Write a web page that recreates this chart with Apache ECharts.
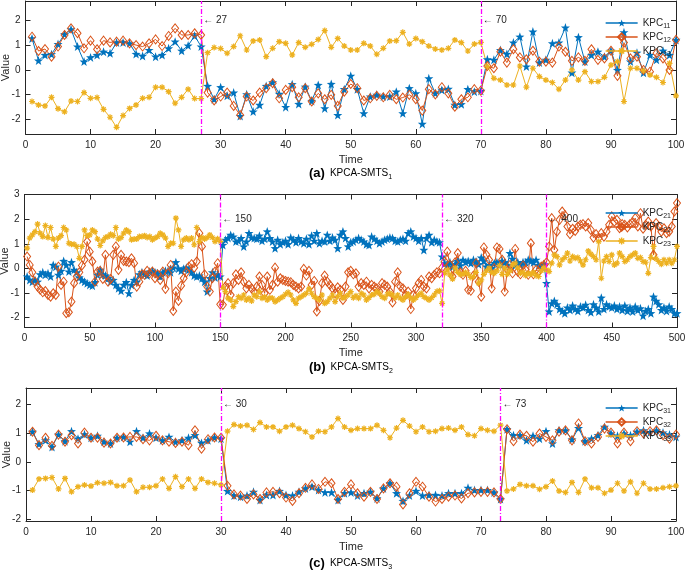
<!DOCTYPE html>
<html><head><meta charset="utf-8">
<script src="https://cdn.jsdelivr.net/npm/echarts@6/dist/echarts.min.js"></script>
<style>html,body{margin:0;padding:0;background:#fff}#c{width:685px;height:571px}</style>
</head><body><div id="c"></div>
<script>
// ---------- Panel (a): KPCA-SMTS1, t = 1..100 ----------
const kpc11 = [1.28,0.38,0.61,0.64,1.05,1.45,1.65,0.95,0.34,0.51,
0.61,0.74,0.68,1.11,1.12,1.08,0.65,0.57,0.81,0.54,
0.61,0.88,1.15,0.78,0.99,1.39,0.95,-0.65,-1.19,-0.70,
-1.05,-0.92,-1.87,-0.99,-1.69,-1.42,-0.65,-0.50,-0.97,-1.51,
-0.58,-1.38,-0.68,-1.26,-0.61,-1.56,-0.57,-1.83,-0.78,-0.24,
-0.78,-1.76,-1.08,-1.01,-1.08,-1.08,-0.88,-1.76,-0.74,-0.95,
-2.19,-0.34,-0.95,-0.81,-0.77,-1.42,-1.39,-0.78,-0.88,-0.85,
0.43,0.41,0.81,0.65,1.11,1.35,0.14,1.56,0.30,0.41,
1.08,1.11,1.72,-0.11,1.33,0.34,0.61,0.74,0.54,0.78,
0.00,1.53,0.34,0.70,-0.11,0.61,0.41,0.78,0.61,1.22];
const kpc12 = [1.35,0.77,0.85,0.54,0.95,1.42,1.69,1.49,0.88,1.19,
0.84,1.19,1.12,1.15,1.19,1.08,1.01,0.95,1.08,1.24,
0.97,1.38,1.69,1.42,1.42,1.49,1.42,-0.92,-1.24,-1.08,
-0.92,-1.46,-1.83,-1.08,-1.24,-0.92,-0.74,-0.54,-1.15,-0.81,
-0.70,-1.11,-0.74,-1.28,-0.95,-1.19,-1.01,-1.46,-0.88,-0.57,
-0.74,-1.24,-1.15,-1.05,-1.11,-1.01,-1.19,-1.12,-1.01,-1.19,
-1.65,-0.78,-0.99,-0.70,-0.95,-1.49,-1.19,-1.11,-0.78,-0.84,
0.16,0.07,0.74,0.30,0.84,0.51,0.43,0.78,0.34,0.34,
0.30,0.95,0.74,0.37,0.51,0.37,0.84,0.41,0.47,0.78,
-0.24,1.11,0.47,0.54,0.00,-0.07,0.68,0.47,0.00,1.22];
const kpc13 = [-1.28,-1.42,-1.46,-1.11,-1.57,-1.70,-1.26,-1.28,-0.92,-1.15,
-1.12,-1.60,-1.92,-2.33,-1.85,-1.56,-1.42,-1.15,-1.11,-0.70,
-0.70,-0.88,-1.35,-1.11,-0.78,-1.16,-1.16,0.70,0.91,0.87,
0.68,0.95,1.39,0.81,1.18,1.22,0.54,0.88,1.15,1.08,
0.61,1.11,0.92,1.04,1.24,1.60,0.92,1.28,0.97,0.81,
0.81,1.08,0.97,0.64,0.88,1.18,1.19,1.53,1.05,1.28,
1.15,0.97,0.85,0.81,0.88,1.22,1.11,0.77,1.05,1.12,
0.14,-0.34,-0.41,-0.61,-0.61,0.16,-0.70,0.07,-0.27,-0.41,
-0.51,-0.78,-0.41,0.00,-0.41,-0.07,-0.47,-0.47,-0.30,0.20,
0.34,-1.28,0.07,0.07,-0.03,-0.20,-0.30,-0.51,0.27,-1.05];

// ---------- Panel (b): KPCA-SMTS2, t = 2..500 step 2 ----------
const kpc21 = [
-0.33,-0.47,-0.54,-0.47,-0.54,-0.24,-0.16,-0.26,-0.20,-0.33,
0.14,0.07,-0.26,-0.10,0.30,0.14,-0.13,0.25,-0.06,-0.16,
-0.37,-0.47,-0.54,-0.60,-0.67,-0.70,-0.56,-0.26,-0.06,-0.24,
-0.29,-0.40,-0.54,-0.47,-0.67,-0.81,-0.91,-0.67,-0.56,-1.01,
-0.67,-0.47,-0.54,-0.24,-0.16,-0.24,-0.29,-0.13,-0.10,-0.16,
-0.20,-0.33,-0.16,-0.10,-0.10,-0.16,0.03,0.25,-0.01,-0.10,
-0.01,0.03,-0.06,-0.16,-0.29,-0.33,-0.29,-0.40,-0.54,-0.94,
-0.40,-0.16,-0.37,-0.24,-0.33,
0.95,1.16,1.23,1.36,1.29,1.09,1.12,1.23,0.89,1.09,
1.43,1.25,1.23,1.20,1.33,1.12,1.20,1.50,1.23,1.09,
0.82,1.16,0.98,1.06,1.12,0.98,1.25,1.16,1.06,1.23,
1.09,1.02,1.20,0.98,1.33,1.12,1.43,1.02,1.12,1.09,
1.36,1.12,1.25,1.16,0.82,1.36,1.50,1.23,0.89,1.06,
1.09,1.16,1.23,1.16,1.09,0.98,0.95,1.29,1.20,1.12,
1.02,1.09,1.16,1.20,1.25,1.23,1.12,1.09,1.16,1.20,
1.12,1.43,1.50,1.29,1.23,1.12,1.23,0.75,1.23,1.36,
1.06,1.16,1.09,1.06,0.48,
0.20,0.14,0.25,0.07,0.17,0.30,0.12,0.35,0.25,0.30,
0.21,0.35,0.28,0.17,0.44,0.30,0.07,0.14,0.01,0.21,
0.25,0.17,0.30,0.25,0.14,0.62,0.39,0.12,0.25,0.14,
0.25,0.25,0.35,0.30,0.25,0.35,0.14,0.07,0.17,-0.60,
-1.75,-1.42,-1.32,-1.46,-1.65,-1.73,-1.82,-1.59,-1.69,-1.51,
-1.65,-1.73,-1.55,-1.59,-1.48,-1.69,-1.78,-1.46,-1.59,-1.75,
-1.19,-1.65,-1.46,-1.55,-1.59,-1.51,-1.65,-1.55,-1.69,-1.51,
-1.73,-1.59,-1.75,-1.55,-1.69,-1.62,-1.92,-1.73,-1.65,-1.82,
-1.15,-1.32,-1.46,-1.69,-1.59,-1.73,-1.55,-1.65,-1.82,-1.82];
const kpc22 = [
0.48,0.14,-0.16,-0.54,-0.74,-0.87,-0.97,-0.92,-1.08,-1.15,
-1.01,-1.08,0.07,-0.67,-0.54,-1.82,-1.78,-1.35,-0.60,-0.33,
-0.16,0.12,0.35,1.09,0.68,0.28,-0.54,-0.13,-0.10,-0.43,
0.55,-0.54,-0.43,0.55,0.89,-0.06,0.55,0.30,0.28,0.25,
0.41,0.21,-0.74,-0.54,-0.24,-0.26,-0.10,-0.20,-0.13,-0.40,
-0.24,-0.47,-0.13,-0.83,-0.20,0.14,-1.73,-0.94,-1.32,-0.70,
-0.40,-0.16,0.07,0.17,0.03,0.28,1.43,0.89,-0.24,-0.74,
-0.94,-0.40,-0.13,0.21,-1.46,
-1.48,-0.74,-0.60,-1.08,-0.60,-0.24,-0.47,-0.16,-0.54,-0.81,
-0.67,-0.81,-0.94,-0.74,-0.33,-0.67,-1.01,-0.33,-0.87,-0.67,
0.03,-0.54,-0.40,-0.47,-0.51,-0.54,-0.56,-0.67,-0.74,-0.81,
-0.74,-0.02,-0.29,-0.10,-0.67,-0.51,-1.75,-1.32,-0.60,-0.29,
-0.54,-0.67,-0.81,-1.01,-0.77,-0.87,-1.28,-0.74,-0.16,-0.10,
-0.24,-0.20,-0.74,-0.60,-0.67,-0.54,-0.81,-0.67,-0.74,-0.81,
-0.94,-0.60,-0.67,-0.74,-0.94,-1.38,-0.54,-0.16,-0.74,-0.81,
-1.08,-0.94,-1.65,-1.08,-0.81,-0.60,-0.47,-0.74,-0.81,-0.33,
-0.40,-0.26,-0.16,-0.20,0.03,
0.28,0.68,0.14,-0.33,0.25,0.62,-0.16,-0.26,-0.10,-0.87,
-0.91,-0.29,0.21,-0.54,-1.15,0.85,0.55,0.35,-0.81,0.01,
0.85,0.79,0.35,-0.94,-0.06,0.14,-0.20,0.79,-0.13,-0.24,
0.12,-0.06,-0.26,1.02,-0.24,-0.06,-0.13,0.07,0.14,0.25,
0.89,2.04,0.75,1.49,1.97,2.31,2.17,1.70,1.39,1.61,
1.52,1.70,1.77,1.80,1.70,1.84,1.56,1.25,1.39,1.23,
1.43,1.29,1.49,1.77,2.11,1.90,1.97,1.63,1.80,1.77,
1.66,1.80,1.88,2.04,1.70,2.24,1.61,1.77,1.90,1.70,
0.55,1.84,1.70,1.49,1.63,1.43,1.49,1.70,2.31,2.65];
const kpc23 = [
0.82,1.23,1.36,1.49,1.80,1.43,1.29,1.74,1.25,1.66,
1.19,0.89,1.23,1.33,1.66,1.56,1.02,0.98,0.98,0.89,
0.41,0.89,1.56,1.33,1.36,1.56,1.49,1.19,0.93,1.12,
1.25,1.29,1.39,1.33,1.66,1.19,1.25,1.43,1.56,1.49,
1.16,1.19,1.19,1.29,1.29,1.33,1.25,1.29,1.16,1.23,
1.29,1.43,1.36,1.23,0.89,1.02,1.02,2.04,1.56,0.89,
1.16,1.23,1.16,1.23,0.96,1.66,1.09,1.25,1.19,1.25,
1.36,1.25,1.09,1.20,1.10,
-0.78,-0.94,-1.21,-1.28,-1.55,-1.35,-1.15,-1.21,-1.08,-1.28,
-1.21,-1.32,-1.08,-1.15,-0.94,-1.21,-1.15,-1.28,-1.19,-1.21,
-1.35,-1.28,-1.21,-1.15,-1.05,-0.97,-1.08,-1.28,-1.42,-1.21,
-1.15,-1.08,-1.01,-0.83,-1.01,-1.15,-1.21,-1.28,-1.08,-1.42,
-1.35,-1.21,-1.08,-1.35,-1.15,-1.01,-1.21,-1.15,-1.08,-0.94,
-1.19,-1.11,-1.21,-1.01,-1.08,-1.28,-1.19,-1.08,-1.05,-0.94,
-1.01,-1.15,-1.21,-1.05,-1.01,-1.08,-1.19,-1.08,-1.21,-1.28,
-1.15,-1.05,-1.19,-1.28,-1.19,-1.08,-1.01,-1.15,-1.21,-1.28,
-1.19,-1.08,-0.94,-0.91,-1.42,
-0.20,-0.06,-0.26,-0.43,0.01,-0.16,-0.24,-0.24,-0.16,-0.24,
-0.37,-0.33,-0.16,-0.60,-0.47,-0.24,-0.10,0.01,-0.16,-0.20,
-0.10,0.12,-0.24,0.01,-0.24,-0.10,0.14,0.21,0.03,-0.20,
-0.16,-0.29,-0.20,-0.24,-0.16,-0.29,-0.33,-0.10,0.03,-0.06,
-0.13,0.21,0.55,0.48,0.14,0.35,0.44,0.62,0.30,0.48,
0.41,0.44,0.30,0.14,0.35,0.71,0.58,0.48,0.35,1.09,
-0.40,0.30,0.48,0.28,0.55,0.14,0.21,0.62,0.48,0.28,
0.35,0.48,0.55,0.62,0.41,0.44,0.28,0.25,-0.20,0.44,
0.89,0.39,0.28,0.17,0.35,0.21,0.35,0.21,0.35,0.89];

// ---------- Panel (c): KPCA-SMTS3, t = 1..100 ----------
const kpc31 = [1.05,0.62,0.75,0.52,0.95,0.72,1.07,0.81,0.96,0.84,
0.91,0.70,0.64,0.84,0.87,0.70,1.07,0.84,0.99,0.84,
0.75,0.87,0.70,0.75,0.84,0.93,0.66,0.75,0.85,0.81,
-1.02,-1.18,-1.22,-1.18,-1.05,-1.34,-1.16,-1.16,-1.02,-1.16,
-1.18,-1.05,-0.93,-0.87,-0.99,-1.07,-1.07,-1.34,-1.10,-1.07,
-1.18,-1.10,-1.05,-1.28,-0.93,-0.75,-1.10,-1.37,-1.18,-1.02,
-1.18,-1.16,-1.16,-1.18,-1.10,-1.10,-1.10,-0.91,-0.99,-0.99,
-0.99,-1.07,-1.30,1.14,0.93,0.93,0.75,0.91,0.81,1.07,
0.64,1.10,1.10,0.78,1.18,0.72,0.81,0.93,1.22,0.99,
0.91,0.99,0.93,1.05,1.10,1.02,1.10,1.02,0.95,0.87];
const kpc32 = [1.05,0.58,0.84,0.56,0.95,0.70,0.93,0.64,1.02,0.84,
0.84,0.67,0.64,0.84,0.85,0.87,0.87,0.79,0.75,0.91,
0.75,0.70,0.66,0.70,0.58,1.10,0.46,0.79,0.85,0.84,
-0.84,-1.14,-1.18,-1.30,-1.14,-1.30,-1.07,-1.05,-1.10,-1.25,
-1.37,-1.10,-0.91,-0.79,-0.95,-0.70,-0.75,-1.30,-1.05,-0.79,
-1.10,-1.22,-1.05,-1.30,-0.93,-0.75,-0.87,-1.49,-1.10,-0.70,
-0.87,-1.22,-1.39,-1.30,-1.22,-1.18,-1.28,-1.10,-1.07,-1.05,
-1.05,-1.07,-1.30,1.14,0.72,0.95,0.91,0.70,0.99,0.87,
0.75,1.05,1.10,0.75,1.34,0.72,0.64,0.87,1.16,1.02,
0.64,1.02,0.72,1.07,0.99,1.07,1.10,0.93,0.81,0.95];
const kpc33 = [-0.99,-0.60,-0.58,-0.55,-0.95,-0.58,-1.05,-0.87,-0.81,-0.85,
-0.73,-0.75,-0.72,-0.84,-0.84,-0.64,-1.05,-0.89,-0.89,-0.84,
-0.60,-0.93,-0.52,-0.87,-0.60,-0.93,-0.60,-0.72,-0.75,-0.81,
1.07,1.30,1.25,1.28,1.13,1.37,1.22,1.22,1.07,1.22,
1.28,1.16,1.05,0.87,1.07,1.05,1.22,1.51,1.22,1.10,
1.16,1.16,1.16,1.28,1.10,0.84,1.18,1.45,1.25,1.05,
1.22,1.05,1.07,1.16,1.18,1.10,1.22,0.95,0.91,1.16,
1.10,1.07,1.28,-1.02,-0.95,-0.79,-0.84,-0.84,-0.96,-0.87,
-0.67,-1.02,-1.07,-0.72,-1.07,-0.60,-0.91,-0.91,-1.10,-0.99,
-0.75,-1.02,-0.70,-1.10,-0.75,-0.95,-0.95,-0.91,-0.87,-0.84];

// ---------- change points, ticks, labels ----------
const changePoints = [[27, 70], [150, 320, 400], [30, 73]];
const yTicks = [[-2,-1,0,1,2], [-2,-1,0,1,2,3], [-2,-1,0,1,2]];
const seriesNames = [['KPC11','KPC12','KPC13'], ['KPC21','KPC22','KPC23'], ['KPC31','KPC32','KPC33']];
const captionLetters = ['(a)', '(b)', '(c)'];
const captionSubs = ['1', '2', '3'];

const time1 = kpc11.map((_, i) => i + 1);
const time2 = kpc21.map((_, i) => 2 * (i + 1));
const time3 = kpc31.map((_, i) => i + 1);
const panelData = [
  [time1, [kpc11, kpc12, kpc13]],
  [time2, [kpc21, kpc22, kpc23]],
  [time3, [kpc31, kpc32, kpc33]]
];

// ---------- styling ----------
const F = '"Liberation Sans", Arial, Helvetica, sans-serif';
const TXT = '#262626';
const AX = '#262626';
const COLORS = ['#0072BD', '#D95319', '#EDB120'];
const STAR = 'path://M0,-10 L2.35,-3.24 L9.51,-3.09 L3.8,1.24 L5.88,8.09 L0,4 L-5.88,8.09 L-3.8,1.24 L-9.51,-3.09 L-2.35,-3.24 Z';
const ASTER = 'path://M-1,-5 L1,-5 L1,5 L-1,5 Z M-5,-1 L5,-1 L5,1 L-5,1 Z M-4.2,-2.8 L-2.8,-4.2 L4.2,2.8 L2.8,4.2 Z M2.8,-4.2 L4.2,-2.8 L-2.8,4.2 L-4.2,2.8 Z';

const grids = [
  {left: 25.5, right: 9, top: 1, height: 133},
  {left: 24.5, right: 8, top: 194.5, height: 133},
  {left: 26, right: 9, top: 388, height: 133}
];
const xRanges = [[0, 100, 10], [0, 500, 50], [0, 100, 10]];
const yRanges = [[-2.6, 2.8], [-2.4, 3.0], [-2.07, 2.58]];
const legendTops = [13, 203, 398];
const captionTops = [164, 358, 554];

const xAxis = [], yAxis = [], series = [], legend = [], title = [];
grids.forEach((g, p) => {
  const [xmin, xmax, xint] = xRanges[p];
  const common = {gridIndex: p, type: 'value', min: xmin, max: xmax, interval: xint,
    splitLine: {show: false},
    axisLine: {onZero: false, lineStyle: {color: AX, width: 1}},
    axisTick: {inside: true, length: 5, lineStyle: {color: AX}}};
  xAxis.push(Object.assign({}, common, {position: 'bottom',
    axisLabel: {color: TXT, fontSize: 10, fontFamily: F, margin: 6},
    name: 'Time', nameLocation: 'middle', nameGap: 20,
    nameTextStyle: {color: TXT, fontSize: 11, fontFamily: F}}));
  xAxis.push(Object.assign({}, common, {position: 'top', axisLabel: {show: false}}));
  const ycommon = {gridIndex: p, type: 'value', min: yRanges[p][0], max: yRanges[p][1],
    splitLine: {show: false},
    axisLine: {onZero: false, lineStyle: {color: AX, width: 1}},
    axisTick: {inside: true, length: 5, lineStyle: {color: AX}, customValues: yTicks[p]}};
  yAxis.push(Object.assign({}, ycommon, {position: 'left',
    axisLabel: {color: TXT, fontSize: 10, fontFamily: F, margin: 5, customValues: yTicks[p]},
    name: 'Value', nameLocation: 'middle', nameGap: 14, nameMoveOverlap: false,
    nameTextStyle: {color: TXT, fontSize: 11, fontFamily: F}}));
  yAxis.push(Object.assign({}, ycommon, {position: 'right', axisLabel: {show: false}}));

  const [times, vals] = panelData[p];
  vals.forEach((arr, s) => {
    const ser = {
      type: 'line', name: seriesNames[p][s], xAxisIndex: 2 * p, yAxisIndex: 2 * p,
      data: arr.map((v, i) => [times[i], v]),
      lineStyle: {color: COLORS[s], width: 1},
      animation: false, clip: false
    };
    if (s === 0) {
      ser.symbol = STAR; ser.symbolSize = 9;
      ser.itemStyle = {color: COLORS[0]};
    } else if (s === 1) {
      ser.symbol = 'diamond'; ser.symbolSize = [7, 9];
      ser.itemStyle = {color: 'rgba(255,255,255,0)', borderColor: COLORS[1], borderWidth: 1};
    } else {
      ser.symbol = ASTER; ser.symbolSize = 6;
      ser.itemStyle = {color: COLORS[2]};
      ser.markLine = {
        silent: true, symbol: 'none', animation: false,
        label: {show: false},
        lineStyle: {color: '#FF00FF', width: 1.3, type: [5, 2, 1, 2]},
        data: changePoints[p].map(c => ({xAxis: c}))
      };
      ser.markPoint = {
        silent: true, symbol: 'circle', symbolSize: 0, animation: false,
        label: {show: true, position: 'right', distance: 2, color: TXT, fontSize: 10, fontFamily: F,
          formatter: prm => '\u2190 ' + prm.data.coord[0]},
        data: changePoints[p].map(c => ({coord: [c, 2.0]}))
      };
    }
    series.push(ser);
  });

  legend.push({
    orient: 'vertical', left: 600, top: legendTops[p], itemWidth: 32, itemHeight: 9, itemGap: 2,
    data: seriesNames[p], selectedMode: false, backgroundColor: 'transparent',
    lineStyle: {width: 1.3},
    formatter: n => '{a|KPC}{b|' + n.slice(3) + '}',
    textStyle: {color: TXT, fontFamily: F,
      rich: {a: {fontSize: 10, color: TXT, fontFamily: F},
             b: {fontSize: 7, color: TXT, fontFamily: F, padding: [7, 0, 0, 0]}}}
  });

  title.push({
    text: '{a|' + captionLetters[p] + '} {b|KPCA-SMTS}{c|' + captionSubs[p] + '}',
    left: 309, top: captionTops[p], padding: 0,
    textStyle: {fontWeight: 'normal', rich: {
      a: {fontSize: 13, fontWeight: 'bold', color: '#000', fontFamily: F},
      b: {fontSize: 10, fontWeight: 'normal', color: '#000', fontFamily: F},
      c: {fontSize: 7, fontWeight: 'normal', color: '#000', fontFamily: F, padding: [8, 0, 0, 0]}
    }}
  });
});

const chart = echarts.init(document.getElementById('c'), null, {renderer: 'canvas'});
chart.setOption({
  backgroundColor: '#fff',
  animation: false,
  grid: grids.map(g => Object.assign({containLabel: false, outerBoundsMode: 'none'}, g)),
  xAxis, yAxis, series, legend, title
});
</script>
</body></html>
